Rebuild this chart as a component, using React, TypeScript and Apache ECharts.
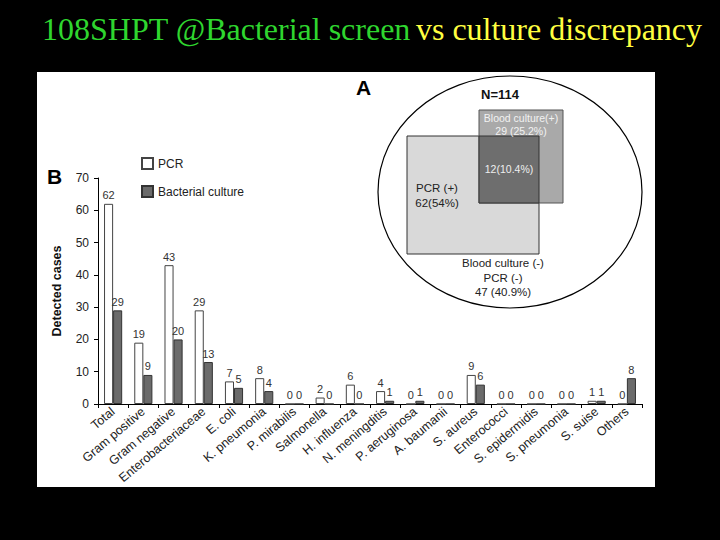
import React, { useEffect, useRef } from "react";
import * as echarts from "echarts";

const categories = [
  "Total", "Gram positive", "Gram negative", "Enterobacteriaceae", "E. coli",
  "K. pneumonia", "P. mirabilis", "Salmonella", "H. influenza", "N. meningditis",
  "P. aeruginosa", "A. baumanii", "S. aureus", "Enterococci", "S. epidermidis",
  "S. pneumonia", "S. suise", "Others",
];
const pcrValues = [62, 19, 43, 29, 7, 8, 0, 2, 6, 4, 0, 0, 9, 0, 0, 0, 1, 0];
const cultureValues = [29, 9, 20, 13, 5, 4, 0, 0, 0, 1, 1, 0, 6, 0, 0, 0, 1, 8];
const seriesNames = ["PCR", "Bacterial culture"];

const titleGreen = "108SHPT @Bacterial screen";
const titleYellow = "vs culture discrepancy";

const vennTotal = "N=114";
const vennBloodPos = ["Blood culture(+)", "29 (25.2%)"];
const vennOverlap = "12(10.4%)";
const vennPcrPos = ["PCR (+)", "62(54%)"];
const vennNeg = ["Blood culture (-)", "PCR (-)", "47 (40.9%)"];

export default function App() {
  const ref = useRef<HTMLDivElement>(null);
  useEffect(() => {
    if (!ref.current) return;
    const chart = echarts.init(ref.current, null, { renderer: "svg" });
    const font = "Liberation Sans, Arial, sans-serif";
    const serif = "Liberation Serif, Times New Roman, serif";
    const txt = (x: number, y: number, t: string, size: number, color: string, bold = false, align = "center") => ({
      type: "text",
      x,
      y,
      z: 20,
      style: {
        text: t,
        fill: color,
        font: `${bold ? "bold " : ""}${size}px ${font}`,
        textAlign: align,
        textVerticalAlign: "middle",
      },
    });
    chart.setOption({
      animation: false,
      backgroundColor: "#000000",
      title: {
        left: 37,
        top: 8,
        text: `{g|${titleGreen}} {y|${titleYellow}}`,
        textStyle: {
          rich: {
            g: { color: "#2fd62f", fontSize: 32, fontWeight: "normal", fontFamily: serif },
            y: { color: "#ffff40", fontSize: 32, fontWeight: "normal", fontFamily: serif },
          },
        },
      },
      legend: {
        orient: "vertical",
        left: 136,
        top: 152,
        itemWidth: 11,
        itemHeight: 11,
        itemGap: 15,
        icon: "rect",
        data: seriesNames,
        textStyle: { fontSize: 12, color: "#222", fontFamily: font },
      },
      grid: { left: 98, right: 78, top: 178, bottom: 136 },
      xAxis: {
        type: "category",
        data: categories,
        axisLine: { lineStyle: { color: "#000", width: 1 } },
        axisTick: { show: true, length: 4, lineStyle: { color: "#000" } },
        axisLabel: {
          interval: 0,
          rotate: 40,
          fontSize: 12.5,
          color: "#222",
          fontFamily: font,
          margin: 6,
        },
      },
      yAxis: {
        type: "value",
        min: 0,
        max: 70,
        interval: 10,
        name: "Detected cases",
        nameLocation: "middle",
        nameGap: 35,
        nameTextStyle: { fontSize: 12.5, fontWeight: "bold", color: "#111", fontFamily: font },
        axisLine: { show: true, lineStyle: { color: "#000", width: 1 } },
        axisTick: { show: true, length: 4, lineStyle: { color: "#000" } },
        axisLabel: { fontSize: 12, color: "#222", fontFamily: font, margin: 9 },
        splitLine: { show: false },
      },
      series: [
        {
          name: seriesNames[0],
          type: "bar",
          data: pcrValues,
          barGap: "0%",
          barCategoryGap: "40%",
          itemStyle: { color: "#ffffff", borderColor: "#444", borderWidth: 1 },
          label: { show: true, position: "top", distance: 3, fontSize: 11, color: "#333", fontFamily: font },
        },
        {
          name: seriesNames[1],
          type: "bar",
          data: cultureValues,
          barGap: "0%",
          barCategoryGap: "40%",
          itemStyle: { color: "#6b6b6b", borderColor: "#333", borderWidth: 1 },
          label: { show: true, position: "top", distance: 3, fontSize: 11, color: "#333", fontFamily: font },
        },
      ],
      graphic: [
        { type: "rect", z: -10, shape: { x: 37, y: 72, width: 618, height: 415 }, style: { fill: "#ffffff" } },
        txt(47, 176, "B", 21, "#000", true, "left"),
        txt(356, 87, "A", 21, "#000", true, "left"),
        { type: "ellipse", z: 10, shape: { cx: 510, cy: 192, rx: 132, ry: 116 }, style: { fill: "#ffffff", stroke: "#000", lineWidth: 1.2 } },
        { type: "rect", z: 11, shape: { x: 407, y: 136, width: 132, height: 118 }, style: { fill: "#d9d9d9", stroke: "#333", lineWidth: 1 } },
        { type: "rect", z: 12, shape: { x: 479, y: 110, width: 84, height: 93 }, style: { fill: "#a9a9a9", stroke: "#555", lineWidth: 1 } },
        { type: "rect", z: 13, shape: { x: 479, y: 136, width: 60, height: 67 }, style: { fill: "#6e6e6e", stroke: "#333", lineWidth: 1 } },
        txt(500, 94, vennTotal, 13, "#111", true),
        txt(521, 118, vennBloodPos[0], 10.5, "#f2f2f2"),
        txt(521, 131, vennBloodPos[1], 10.5, "#f2f2f2"),
        txt(509, 169, vennOverlap, 10.5, "#eeeeee"),
        txt(437, 188, vennPcrPos[0], 11.5, "#222"),
        txt(437, 203, vennPcrPos[1], 11.5, "#222"),
        txt(503, 263, vennNeg[0], 11.5, "#222"),
        txt(503, 278, vennNeg[1], 11.5, "#222"),
        txt(503, 292, vennNeg[2], 11.5, "#222"),
      ],
    });
    return () => chart.dispose();
  }, []);
  return <div ref={ref} style={{ position: "fixed", left: 0, top: 0, width: 720, height: 540 }} />;
}
